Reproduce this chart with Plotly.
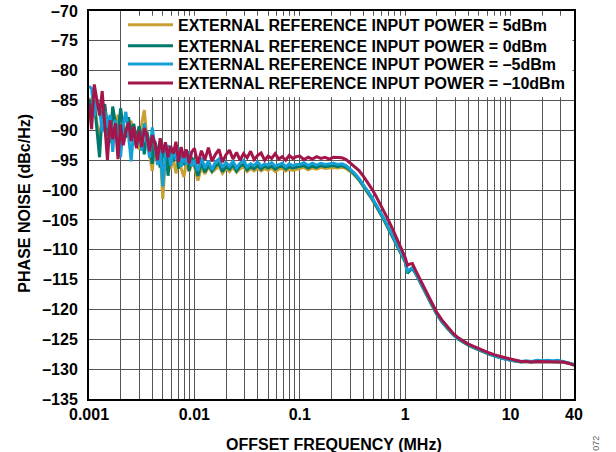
import math
import plotly.graph_objects as go

# Offset frequency, MHz (shared by all four traces)
freq_mhz = [
    0.001, 0.001059, 0.001122, 0.001189, 0.001259, 0.001334, 0.001413, 0.001496, 0.001585, 0.001679,
    0.001778, 0.001884, 0.001995, 0.002113, 0.002239, 0.002371, 0.002512, 0.002661, 0.002818, 0.002985,
    0.003162, 0.00335, 0.003548, 0.003758, 0.003981, 0.004217, 0.004467, 0.004732, 0.005012, 0.005309,
    0.005623, 0.005957, 0.00631, 0.006683, 0.007079, 0.007499, 0.007943, 0.008414, 0.008913, 0.009441,
    0.01, 0.0108, 0.01166, 0.01259, 0.01359, 0.01468, 0.01585, 0.01711, 0.01848, 0.01995,
    0.02154, 0.02326, 0.02512, 0.02712, 0.02929, 0.03162, 0.03415, 0.03687, 0.03981, 0.04299,
    0.04642, 0.05012, 0.05412, 0.05843, 0.0631, 0.06813, 0.07356, 0.07943, 0.08577, 0.09261,
    0.1, 0.1096, 0.1202, 0.1318, 0.1445, 0.1585, 0.1738, 0.1905, 0.2089, 0.2291,
    0.2512, 0.2754, 0.302, 0.3311, 0.3631, 0.3981, 0.4365, 0.4786, 0.5248, 0.5754,
    0.631, 0.6918, 0.7586, 0.8318, 0.912,
    1.0, 1.05, 1.1, 1.17, 1.259, 1.413, 1.585, 1.778, 1.995, 2.239,
    2.512, 2.818, 3.162, 3.548, 3.981, 4.467, 5.012, 5.623, 6.31, 7.079,
    7.943, 8.913,
    10, 11.2, 12.6, 14.1, 15.8, 17.8, 20, 22.4, 25.1, 28.2, 31.6, 35.5, 40,
]

# Phase noise, dBc/Hz, per reference input power
pn_5dbm = [
    -84.5, -86.0, -85.5, -89.0, -92.0, -87.5, -86.2, -88.8, -90.5, -87.2,
    -89.0, -87.4, -90.0, -88.6, -91.0, -89.2, -88.4, -92.5, -90.0, -93.2,
    -88.9, -86.6, -91.5, -94.0, -96.8, -92.5, -94.2, -93.0, -101.5, -95.0,
    -93.4, -96.5, -94.6, -97.2, -95.0, -96.4, -97.8, -95.3, -96.9, -95.6,
    -96.0, -98.4, -96.2, -97.3, -96.1, -97.0, -96.5, -96.0, -97.2, -96.4,
    -96.9, -96.2, -97.0, -96.4, -96.1, -96.9, -96.4, -96.8, -96.3, -96.8,
    -96.4, -96.7, -96.3, -96.9, -96.5, -96.4, -96.8, -96.5, -96.7, -96.5,
    -96.4, -96.2, -96.6, -96.3, -96.5, -96.2, -96.4, -96.3, -96.2, -96.3,
    -96.2, -96.4, -96.9, -97.5, -98.3, -99.3, -100.3, -101.4, -102.6, -103.8,
    -105.1, -106.5, -107.9, -109.3, -110.8,
    -112.0, -113.8, -113.4, -113.1, -114.0, -115.7, -117.5, -119.2, -120.8, -122.1,
    -123.2, -124.1, -124.9, -125.5, -126.0, -126.4, -126.8, -127.1, -127.5, -127.8,
    -128.1, -128.3,
    -128.5, -128.7, -128.8, -128.7, -128.8, -128.7, -128.7, -128.7, -128.8, -128.7, -128.8, -129.0, -129.3,
]
pn_0dbm = [
    -84.8, -86.5, -85.2, -90.5, -94.5, -87.0, -85.6, -89.8, -92.1, -86.0,
    -88.7, -90.6, -86.3, -89.5, -91.2, -87.8, -90.4, -88.9, -92.0, -89.3,
    -91.1, -94.0, -90.2, -92.4, -95.6, -91.8, -93.5, -96.2, -94.0, -92.3,
    -97.6, -93.4, -95.2, -93.0, -96.4, -94.2, -95.8, -93.6, -96.8, -94.5,
    -95.5, -97.6, -95.4, -97.0, -95.8, -96.8, -96.0, -95.5, -96.9, -96.1,
    -96.5, -95.8, -96.8, -96.0, -95.7, -96.6, -96.1, -96.4, -95.9, -96.5,
    -96.0, -96.3, -96.0, -96.5, -96.1, -96.0, -96.5, -96.1, -96.3, -96.2,
    -96.1, -95.9, -96.3, -96.0, -96.2, -95.9, -96.1, -96.0, -95.9, -96.1,
    -95.9, -96.2, -96.7, -97.4, -98.2, -99.2, -100.2, -101.3, -102.5, -103.7,
    -105.0, -106.4, -107.8, -109.2, -110.7,
    -112.0, -113.9, -113.5, -113.1, -114.0, -115.7, -117.5, -119.2, -120.8, -122.1,
    -123.2, -124.1, -124.9, -125.5, -126.0, -126.4, -126.8, -127.1, -127.5, -127.8,
    -128.1, -128.3,
    -128.5, -128.7, -128.8, -128.7, -128.8, -128.7, -128.7, -128.7, -128.8, -128.7, -128.8, -129.0, -129.3,
]
pn_m5dbm = [
    -82.6, -83.0, -87.6, -84.8, -86.2, -90.3, -86.8, -89.5, -87.4, -93.6,
    -88.2, -91.0, -94.5, -89.0, -86.9, -90.8, -95.2, -89.7, -92.6, -90.1,
    -93.4, -88.8, -91.9, -94.6, -89.5, -92.7, -95.8, -93.1, -99.4, -93.8,
    -92.5, -95.9, -93.2, -94.8, -92.9, -96.1, -94.0, -95.7, -93.5, -96.0,
    -95.0, -96.8, -94.6, -96.3, -95.1, -96.6, -95.3, -94.8, -96.2, -95.4,
    -96.0, -95.2, -96.3, -95.5, -95.0, -96.1, -95.6, -95.9, -95.3, -96.0,
    -95.6, -95.8, -95.4, -96.0, -95.7, -95.5, -96.1, -95.6, -95.9, -95.7,
    -95.7, -95.4, -95.9, -95.5, -95.8, -95.5, -95.7, -95.6, -95.5, -95.7,
    -95.6, -95.9, -96.5, -97.2, -98.0, -99.0, -100.0, -101.1, -102.3, -103.5,
    -104.8, -106.2, -107.6, -109.0, -110.5,
    -111.8, -113.6, -113.3, -113.0, -113.9, -115.6, -117.4, -119.1, -120.7, -122.0,
    -123.1, -124.1, -124.9, -125.4, -125.9, -126.3, -126.7, -127.0, -127.4, -127.8,
    -128.1, -128.3,
    -128.5, -128.6, -128.7, -128.6, -128.7, -128.5, -128.6, -128.5, -128.6, -128.5, -128.7, -128.9, -129.2,
]
pn_m10dbm = [
    -85.5, -89.8, -82.3, -84.6, -87.5, -83.4, -88.5, -95.0, -88.3, -91.5,
    -88.8, -94.8, -89.0, -92.5, -90.2, -88.6, -91.8, -89.4, -93.0, -90.0,
    -92.8, -89.6, -91.0, -93.5, -90.8, -92.2, -95.0, -91.3, -93.8, -92.0,
    -94.5, -92.6, -93.9, -91.9, -95.3, -92.8, -94.6, -93.2, -95.5, -93.6,
    -93.0, -95.6, -93.4, -94.9, -92.9, -95.2, -94.0, -93.2, -95.3, -94.1,
    -93.3, -94.8, -93.7, -95.0, -93.9, -94.6, -93.5, -94.9, -94.2, -93.8,
    -95.0, -94.3, -94.7, -93.9, -94.8, -94.4, -95.0, -94.2, -94.7, -94.4,
    -94.3, -94.9, -94.5, -94.8, -94.4, -94.7, -94.5, -94.8, -94.5, -94.6,
    -94.6, -94.9, -95.5, -96.0, -96.7, -97.6, -98.6, -99.7, -100.9, -102.2,
    -103.6, -105.0, -106.5, -108.0, -109.7,
    -111.3, -112.6, -112.4, -112.3, -113.5, -115.3, -117.1, -118.9, -120.5, -121.8,
    -122.9, -123.9, -124.7, -125.3, -125.8, -126.2, -126.6, -126.9, -127.3, -127.6,
    -127.9, -128.1,
    -128.3, -128.5, -128.7, -128.7, -128.8, -128.7, -128.7, -128.8, -128.7, -128.7, -128.8, -129.0, -129.3,
]

series_names = [
    "EXTERNAL REFERENCE INPUT POWER = 5dBm",
    "EXTERNAL REFERENCE INPUT POWER = 0dBm",
    "EXTERNAL REFERENCE INPUT POWER = –5dBm",
    "EXTERNAL REFERENCE INPUT POWER = –10dBm",
]
series_colors = ["#c9a033", "#00786c", "#14a0d6", "#a3164b"]
series_values = [pn_5dbm, pn_0dbm, pn_m5dbm, pn_m10dbm]

y_ticks = list(range(-135, -65, 5))
y_ticktext = [f"–{abs(v)}" for v in y_ticks]

# vertical grid at every 1..9 step of each decade, labels only at decades + 40
x_grid = [m * 10.0 ** e for e in range(-3, 1) for m in range(1, 10)] + [10, 20, 30, 40]
x_labels = {0.001: "0.001", 0.01: "0.01", 0.1: "0.1", 1: "1", 10: "10", 40: "40"}
x_ticktext = [next((t for v, t in x_labels.items() if abs(v - g) < 1e-9), "") for g in x_grid]

FONT = "Liberation Sans, Arial, sans-serif"
GRID = "#555555"
legend_ids = ["legend", "legend2", "legend3", "legend4"]
legend_rows_y = [0.9646, 0.9104, 0.8634, 0.8144]   # one row per legend, tight spacing

fig = go.Figure()
for name, color, vals, lg in zip(series_names, series_colors, series_values, legend_ids):
    fig.add_trace(go.Scatter(x=freq_mhz, y=vals, mode="lines", name=name, legend=lg,
                             line=dict(color=color, width=3)))

legend_style = dict(x=0.0701, xanchor="left", yanchor="middle",
                    bgcolor="rgba(0,0,0,0)", borderwidth=0, itemwidth=45,
                    font=dict(family=FONT, size=16, color="black", weight="bold"))
fig.update_layout(
    width=616, height=452,
    margin=dict(l=89, r=42, t=11, b=53, autoexpand=False),
    paper_bgcolor="white", plot_bgcolor="white",
    font=dict(family=FONT, size=16, color="black", weight="bold"),
    showlegend=True,
    **{lg: dict(y=yy, **legend_style) for lg, yy in zip(legend_ids, legend_rows_y)},
)
# white panel behind the legend (hides grid, as in the original)
fig.add_shape(type="rect", xref="paper", yref="paper", x0=0.066, x1=0.997, y0=0.778, y1=0.988,
              fillcolor="white", line=dict(width=0), layer="above")

fig.update_xaxes(
    type="log", range=[-3, math.log10(40)], automargin=False,
    tickmode="array", tickvals=x_grid, ticktext=x_ticktext,
    showgrid=True, gridcolor=GRID, gridwidth=1,
    showline=True, linecolor="black", linewidth=2, mirror="ticks",
    ticks="inside", ticklen=4, tickcolor=GRID, ticklabelstandoff=0, zeroline=False,
)
fig.update_yaxes(
    range=[-135, -70], automargin=False,
    tickmode="array", tickvals=y_ticks, ticktext=y_ticktext,
    showgrid=True, gridcolor=GRID, gridwidth=1,
    showline=True, linecolor="black", linewidth=2, mirror="ticks",
    ticks="inside", ticklen=4, tickcolor=GRID, ticklabelstandoff=6, zeroline=False,
)

fig.add_annotation(text="PHASE NOISE (dBc/Hz)", xref="paper", yref="paper",
                   x=-0.132, y=0.506, xanchor="center", yanchor="middle",
                   textangle=-90, showarrow=False,
                   font=dict(family=FONT, size=16, weight="bold"))
fig.add_annotation(text="OFFSET FREQUENCY (MHz)", xref="paper", yref="paper",
                   x=0.506, y=-0.116, xanchor="center", yanchor="middle", showarrow=False,
                   font=dict(family=FONT, size=16, weight="bold"))
fig.add_annotation(text="072", xref="paper", yref="paper",
                   x=1.045, y=-0.113, xanchor="center", yanchor="middle",
                   textangle=-90, showarrow=False,
                   font=dict(family=FONT, size=9, color="#666666", weight="normal"))

# the page body has a default 8px margin; drop it so the chart fills the window
fig.write_html("out.html", config={"displayModeBar": False},
               post_script="document.body.style.margin='0';")
